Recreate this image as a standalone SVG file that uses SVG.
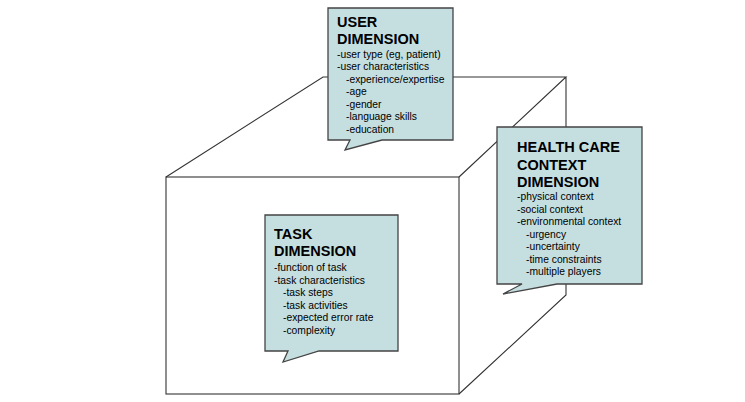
<svg xmlns="http://www.w3.org/2000/svg" width="745" height="402" viewBox="0 0 745 402">
<style>
.edge{fill:none;stroke:#333;stroke-width:1.1}
.callout{fill:#c5dfe0;stroke:#444;stroke-width:1.3;stroke-linejoin:miter}
.t{font-family:"Liberation Sans",Arial,sans-serif;font-size:14.5px;font-weight:bold;fill:#000}
.b{font-family:"Liberation Sans",Arial,sans-serif;font-size:10.3px;fill:#000}
</style>
<rect width="745" height="402" fill="#fff"/>
<g id="connectors">
<rect class="edge" x="166" y="177" width="293" height="217"/>
<path class="edge" d="M166,177 L323,77 H566 L459,177 M566,77 V295 L459,394"/>
</g>
<g id="user-dimension">
<path class="callout" d="M328,8 H453 V140 H382 L345,150 L350,140 H328 Z"/>
<text class="t" x="337" y="27">USER</text>
<text class="t" x="337" y="44">DIMENSION</text>
<text class="b" x="337" y="57.5">-user type (eg, patient)</text>
<text class="b" x="337" y="70">-user characteristics</text>
<text class="b" x="346" y="82.5">-experience/expertise</text>
<text class="b" x="346" y="95">-age</text>
<text class="b" x="346" y="107.5">-gender</text>
<text class="b" x="346" y="120">-language skills</text>
<text class="b" x="346" y="132.5">-education</text>
</g>
<g id="health-care-context-dimension">
<path class="callout" d="M497,127 H642 V284 H557 L503,294 L522,284 H497 Z"/>
<text class="t" x="517" y="152">HEALTH CARE</text>
<text class="t" x="517" y="169.5">CONTEXT</text>
<text class="t" x="517" y="187">DIMENSION</text>
<text class="b" x="517" y="200">-physical context</text>
<text class="b" x="517" y="212.5">-social context</text>
<text class="b" x="517" y="225">-environmental context</text>
<text class="b" x="526" y="237.5">-urgency</text>
<text class="b" x="526" y="250">-uncertainty</text>
<text class="b" x="526" y="262.5">-time constraints</text>
<text class="b" x="526" y="275">-multiple players</text>
</g>
<g id="task-dimension">
<path class="callout" d="M265,215 H398 V351 H319 L283,362 L288,351 H265 Z"/>
<text class="t" x="274" y="239">TASK</text>
<text class="t" x="274" y="256">DIMENSION</text>
<text class="b" x="274" y="271">-function of task</text>
<text class="b" x="274" y="283.5">-task characteristics</text>
<text class="b" x="283" y="296">-task steps</text>
<text class="b" x="283" y="308.5">-task activities</text>
<text class="b" x="283" y="321">-expected error rate</text>
<text class="b" x="283" y="333.5">-complexity</text>
</g>
</svg>
